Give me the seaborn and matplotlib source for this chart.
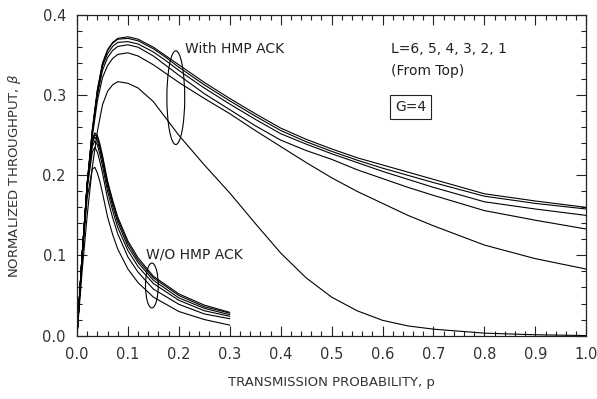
import numpy as np
import pandas as pd
import matplotlib
matplotlib.use('Agg')
import matplotlib.pyplot as plt
from matplotlib.patches import Ellipse
import seaborn as sns

# transmission probability grid, with HMP ACK
p_ack = [0, 0.01, 0.02, 0.03, 0.04, 0.05, 0.06, 0.07, 0.08, 0.10, 0.12, 0.15, 0.175,
         0.20, 0.25, 0.30, 0.35, 0.40, 0.45, 0.50, 0.55, 0.60, 0.65, 0.70, 0.80, 0.90, 1.00]
ack_L6 = [0, 0.100, 0.190, 0.257, 0.307, 0.340, 0.357, 0.366, 0.371, 0.373, 0.370, 0.360, 0.349,
          0.338, 0.316, 0.296, 0.277, 0.259, 0.245, 0.233, 0.222, 0.213, 0.204, 0.195, 0.177, 0.168, 0.160]
ack_L5 = [0, 0.100, 0.190, 0.256, 0.306, 0.339, 0.356, 0.365, 0.370, 0.371, 0.368, 0.358, 0.347,
          0.335, 0.313, 0.293, 0.274, 0.256, 0.242, 0.230, 0.219, 0.209, 0.200, 0.191, 0.174, 0.165, 0.158]
ack_L4 = [0, 0.100, 0.190, 0.255, 0.304, 0.336, 0.352, 0.361, 0.366, 0.367, 0.364, 0.354, 0.343,
          0.331, 0.309, 0.289, 0.270, 0.252, 0.239, 0.227, 0.216, 0.205, 0.195, 0.185, 0.167, 0.158, 0.150]
ack_L3 = [0, 0.100, 0.188, 0.253, 0.300, 0.331, 0.347, 0.356, 0.361, 0.363, 0.360, 0.349, 0.337,
          0.325, 0.302, 0.282, 0.262, 0.244, 0.231, 0.220, 0.207, 0.196, 0.185, 0.175, 0.156, 0.144, 0.133]
ack_L2 = [0, 0.098, 0.185, 0.248, 0.293, 0.322, 0.337, 0.346, 0.351, 0.353, 0.349, 0.338, 0.327,
          0.316, 0.296, 0.277, 0.256, 0.236, 0.216, 0.197, 0.180, 0.165, 0.150, 0.137, 0.113, 0.096, 0.083]
ack_L1 = [0, 0.080, 0.150, 0.210, 0.255, 0.288, 0.305, 0.313, 0.317, 0.315, 0.309, 0.292, 0.271,
          0.250, 0.213, 0.178, 0.140, 0.103, 0.072, 0.048, 0.031, 0.019, 0.012, 0.008, 0.003, 0.001, 0.000]

# without HMP ACK
p_wo = [0, 0.01, 0.02, 0.03, 0.035, 0.04, 0.045, 0.05, 0.06, 0.07, 0.08, 0.10, 0.12, 0.15, 0.20, 0.25, 0.30]
wo_L6 = [0, 0.100, 0.190, 0.245, 0.253, 0.250, 0.239, 0.225, 0.193, 0.169, 0.148, 0.118, 0.097, 0.074, 0.052, 0.038, 0.029]
wo_L5 = [0, 0.100, 0.190, 0.243, 0.251, 0.247, 0.236, 0.222, 0.190, 0.166, 0.145, 0.115, 0.094, 0.072, 0.050, 0.036, 0.028]
wo_L4 = [0, 0.100, 0.189, 0.240, 0.248, 0.243, 0.232, 0.218, 0.186, 0.162, 0.141, 0.111, 0.091, 0.069, 0.047, 0.034, 0.026]
wo_L3 = [0, 0.100, 0.187, 0.236, 0.243, 0.238, 0.226, 0.212, 0.180, 0.156, 0.135, 0.106, 0.086, 0.065, 0.044, 0.031, 0.024]
wo_L2 = [0, 0.099, 0.184, 0.229, 0.235, 0.229, 0.217, 0.203, 0.171, 0.147, 0.127, 0.098, 0.079, 0.058, 0.039, 0.027, 0.021]
wo_L1 = [0, 0.095, 0.172, 0.208, 0.210, 0.203, 0.192, 0.178, 0.148, 0.126, 0.108, 0.083, 0.066, 0.048, 0.030, 0.020, 0.013]

ack_curves = {6: ack_L6, 5: ack_L5, 4: ack_L4, 3: ack_L3, 2: ack_L2, 1: ack_L1}
wo_curves = {6: wo_L6, 5: wo_L5, 4: wo_L4, 3: wo_L3, 2: wo_L2, 1: wo_L1}

# Build one long table for seaborn
rows = []
for L, vals in ack_curves.items():
    for p, b in zip(p_ack, vals):
        rows.append(('ack', L, p, b))
for L, vals in wo_curves.items():
    for p, b in zip(p_wo, vals):
        rows.append(('wo', L, p, b))
df = pd.DataFrame(rows, columns=['scheme', 'L', 'p', 'beta'])
df['curve'] = df['scheme'] + df['L'].astype(str)

sns.set_style('ticks')
plt.rcParams['font.family'] = ['DejaVu Sans']

fig = plt.figure(figsize=(5.97, 3.99), dpi=100)
ax = fig.add_axes([0.129, 0.159, 0.853, 0.803])

sns.lineplot(data=df, x='p', y='beta', units='curve', estimator=None,
             color='black', linewidth=0.8, ax=ax, legend=False)

ax.set_xlim(0, 1.0)
ax.set_ylim(0, 0.4)
ax.set_xticks(np.arange(0, 1.01, 0.1))
ax.set_yticks(np.arange(0, 0.41, 0.1))
ax.set_xticklabels([f'{v:.1f}' for v in np.arange(0, 1.01, 0.1)])
ax.set_yticklabels([f'{v:.1f}' for v in np.arange(0, 0.41, 0.1)])
ax.xaxis.set_minor_locator(matplotlib.ticker.MultipleLocator(0.02))
ax.yaxis.set_minor_locator(matplotlib.ticker.MultipleLocator(0.02))
ax.tick_params(which='both', direction='in', top=True, right=True, color='#222222', width=0.8)
ax.tick_params(which='major', length=7, labelsize=10.5, pad=8, labelcolor='#333333')
ax.tick_params(which='minor', length=3.5)
for s in ax.spines.values():
    s.set_linewidth(0.9)
    s.set_color('#222222')

ax.set_xlabel('TRANSMISSION PROBABILITY, p', fontsize=9.5, color='#333333', labelpad=10)
ax.set_ylabel('NORMALIZED THROUGHPUT, $\\beta$', fontsize=9.5, color='#333333', labelpad=14)

txt = dict(fontsize=10, color='#222222', va='center', ha='left')
ax.text(0.212, 0.358, 'With HMP ACK', **txt)
ax.text(0.135, 0.101, 'W/O HMP ACK', **txt)
ax.text(0.617, 0.3575, 'L=6, 5, 4, 3, 2, 1', **txt)
ax.text(0.617, 0.330, '(From Top)', **txt)
ax.text(0.625, 0.285, 'G=4', fontsize=10, color='#222222', va='center', ha='left',
        bbox=dict(boxstyle='square,pad=0.35', fc='white', ec='#222222', lw=0.8))

ax.add_patch(Ellipse((0.194, 0.297), 0.035, 0.117, fill=False, ec='black', lw=0.8))
ax.add_patch(Ellipse((0.147, 0.0625), 0.025, 0.056, fill=False, ec='black', lw=0.8))

fig.savefig('out.png', dpi=100)
